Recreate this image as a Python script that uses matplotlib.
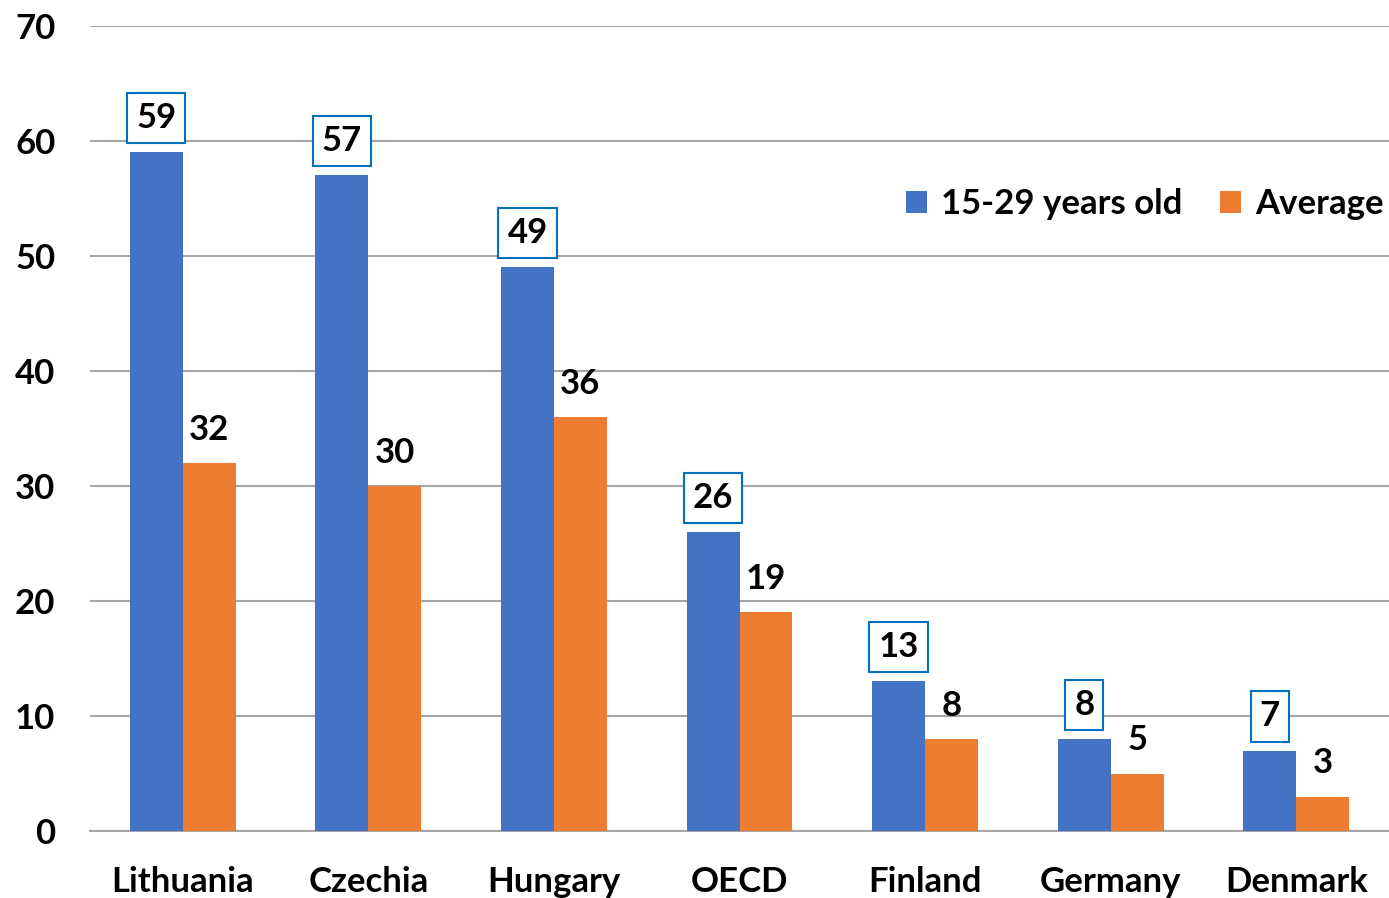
import numpy as np
import matplotlib
matplotlib.use("Agg")
import matplotlib.pyplot as plt

countries = ["Lithuania", "Czechia", "Hungary", "OECD", "Finland", "Germany", "Denmark"]
youth = [59, 57, 49, 26, 13, 8, 7]
average = [32, 30, 36, 19, 8, 5, 3]
series_names = ["15-29 years old", "Average"]

BLUE = "#4472C4"
ORANGE = "#ED7D31"
FS = 25

plt.rcParams["font.family"] = ["Lato", "DejaVu Sans"]
plt.rcParams["font.weight"] = "bold"

fig = plt.figure(figsize=(13.89, 8.98), dpi=100)
ax = fig.add_axes([0.0648, 0.0746, 0.9352, 0.8965])

x = np.arange(len(countries))
w = 0.285
ax.bar(x - w / 2, youth, w, color=BLUE, label=series_names[0], zorder=3)
ax.bar(x + w / 2, average, w, color=ORANGE, label=series_names[1], zorder=3)

# boxed labels on the youth bars, plain labels on the averages
for xi, v in zip(x, youth):
    ax.annotate(str(v), (xi - w / 2, v), xytext=(0, 24.5), textcoords="offset points",
                ha="center", va="center", fontsize=FS, fontweight="bold",
                bbox=dict(boxstyle="square,pad=0.26", fc="white", ec="#0070C0", lw=1.5),
                zorder=4)
for xi, v in zip(x, average):
    ax.annotate(str(v), (xi + w / 2, v), xytext=(0, 24), textcoords="offset points",
                ha="center", va="center", fontsize=FS, fontweight="bold", zorder=4)

ax.set_xlim(-0.5, len(countries) - 0.5)
ax.set_ylim(0, 70)
ax.set_yticks(range(0, 71, 10))
ax.set_xticks(x)
ax.set_xticklabels(countries)
ax.tick_params(axis="both", length=0, labelsize=FS)
ax.tick_params(axis="x", pad=25)
ax.tick_params(axis="y", pad=25)
for lab in ax.get_yticklabels() + ax.get_xticklabels():
    lab.set_fontweight("bold")

ax.grid(axis="y", color="#A6A6A6", lw=1.5, zorder=0)
for s in ["top", "right", "left"]:
    ax.spines[s].set_visible(False)
ax.spines["bottom"].set_color("#A6A6A6")
ax.spines["bottom"].set_linewidth(1.5)

ax.legend(loc="upper right", bbox_to_anchor=(1.02, 0.837), ncol=2, frameon=False,
          handlelength=0.6, handleheight=0.6, handletextpad=0.4,
          columnspacing=1.1, prop={"weight": "bold", "size": FS})

fig.savefig("out.png", dpi=100)
